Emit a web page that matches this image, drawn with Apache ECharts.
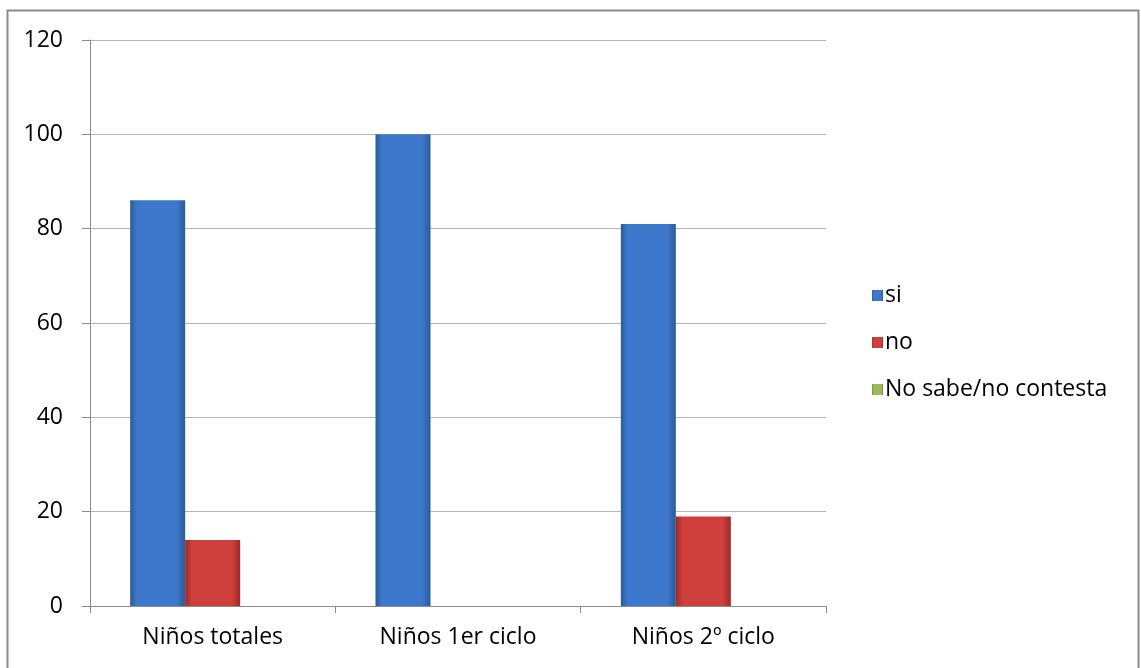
<!DOCTYPE html>
<html><head><meta charset="utf-8">
<script src="https://cdn.jsdelivr.net/npm/echarts@6/dist/echarts.min.js"></script>
<style>html,body{margin:0;padding:0;background:#fff}#c{width:1141px;height:668px}</style>
</head><body><div id="c"></div>
<script>
const categories = ['Niños totales', 'Niños 1er ciclo', 'Niños 2º ciclo'];
const seriesNames = ['si', 'no', 'No sabe/no contesta'];
const siValues = [86, 100, 81];
const noValues = [14, 0, 19];
const nsncValues = [0, 0, 0];
const yTicks = [0, 20, 40, 60, 80, 100, 120];

function grad(edge, mid) {
  return new echarts.graphic.LinearGradient(0, 0, 1, 0, [
    {offset: 0, color: edge}, {offset: 0.12, color: mid}, {offset: 0.85, color: mid}, {offset: 1, color: edge}
  ]);
}
const font = '"Open Sans", sans-serif';
const chart = echarts.init(document.getElementById('c'));
chart.setOption({
  animation: false,
  backgroundColor: '#fff',
  graphic: [{type: 'rect', shape: {x: 7.5, y: 10.5, width: 1131, height: 700}, style: {fill: 'none', stroke: '#8c8c8c', lineWidth: 2}, silent: true}],
  grid: {left: 90, right: 315, top: 40, bottom: 62, containLabel: false},
  legend: {
    orient: 'vertical', left: 867, top: 279, itemWidth: 11, itemHeight: 11, itemGap: 24,
    icon: 'rect', data: seriesNames,
    textStyle: {fontFamily: font, fontSize: 23, color: '#000', padding: [0, 0, 0, -3]}
  },
  xAxis: {
    type: 'category', data: categories,
    axisLine: {lineStyle: {color: '#8c8c8c', width: 1}},
    axisTick: {show: true, length: 7, lineStyle: {color: '#8c8c8c'}},
    axisLabel: {fontFamily: font, fontSize: 23, color: '#000', margin: 20}
  },
  yAxis: {
    type: 'value', min: yTicks[0], max: yTicks[yTicks.length - 1], interval: 20,
    axisLine: {show: true, lineStyle: {color: '#8c8c8c'}},
    axisTick: {show: true, length: 8, lineStyle: {color: '#8c8c8c'}},
    splitLine: {lineStyle: {color: '#b5b5b5'}},
    axisLabel: {fontFamily: font, fontSize: 23, color: '#000', margin: 27}
  },
  series: [
    {name: seriesNames[0], type: 'bar', data: siValues, barWidth: 55, barGap: '0%',
     itemStyle: {color: grad('#2b5a96', '#3d78cc')}},
    {name: seriesNames[1], type: 'bar', data: noValues, barWidth: 55, barGap: '0%',
     itemStyle: {color: grad('#9a2a28', '#cf3f3b')}},
    {name: seriesNames[2], type: 'bar', data: nsncValues, barWidth: 55, barGap: '0%',
     itemStyle: {color: grad('#6f8a34', '#9bbb59')}}
  ]
});
</script></body></html>
